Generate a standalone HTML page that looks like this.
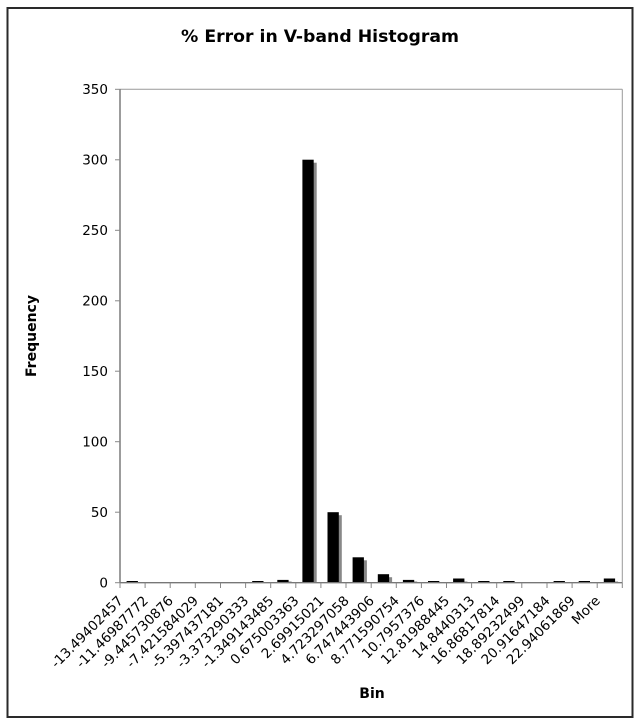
<!DOCTYPE html>
<html>
<head>
<meta charset="utf-8">
<style>
  html, body { margin:0; padding:0; background:#fff; }
  svg { display:block; }
  text { font-family: "DejaVu Sans", "Liberation Sans", sans-serif; fill:#000; }
</style>
</head>
<body>
<svg width="640" height="725" viewBox="0 0 640 725" xmlns="http://www.w3.org/2000/svg">
  <rect x="0" y="0" width="640" height="725" fill="#fff"/>
  <!-- outer frame -->
  <rect x="7.5" y="8" width="625" height="709" fill="none" stroke="#2a2a2a" stroke-width="2"/>

  <!-- title -->
  <text x="320" y="42" text-anchor="middle" font-size="17" font-weight="bold" textLength="278" lengthAdjust="spacingAndGlyphs">% Error in V-band Histogram</text>

  <!-- plot area border -->
  <line x1="120" y1="89.3" x2="622.3" y2="89.3" stroke="#999" stroke-width="1"/>
  <line x1="622.3" y1="89.3" x2="622.3" y2="582.7" stroke="#999" stroke-width="1"/>

  <!-- bars: shadows -->
  <g fill="#888">
    <rect x="305.4" y="162.7" width="11.3" height="420"/>
    <rect x="330.5" y="515.2" width="11.3" height="67.5"/>
    <rect x="355.6" y="560.3" width="11.3" height="22.4"/>
    <rect x="380.8" y="577.2" width="11.3" height="5.5"/>
    <rect x="405.9" y="581.5" width="11.3" height="1.2"/>
    <rect x="456.1" y="581.5" width="11.3" height="1.2"/>
    <rect x="280.3" y="581.5" width="11.3" height="1.2"/>
    <rect x="606.8" y="581.5" width="11.3" height="1.2"/>
  </g>
  <!-- bars -->
  <g fill="#000">
    <rect x="126.6" y="581.0" width="11.3" height="1.7"/>
    <rect x="252.2" y="581.0" width="11.3" height="1.7"/>
    <rect x="277.3" y="579.9" width="11.3" height="2.82"/>
    <rect x="302.4" y="159.7" width="11.3" height="423"/>
    <rect x="327.5" y="512.2" width="11.3" height="70.5"/>
    <rect x="352.6" y="557.3" width="11.3" height="25.4"/>
    <rect x="377.8" y="574.2" width="11.3" height="8.46"/>
    <rect x="402.9" y="579.9" width="11.3" height="2.82"/>
    <rect x="428.0" y="581.0" width="11.3" height="1.7"/>
    <rect x="453.1" y="578.5" width="11.3" height="4.23"/>
    <rect x="478.2" y="581.0" width="11.3" height="1.7"/>
    <rect x="503.3" y="581.0" width="11.3" height="1.7"/>
    <rect x="553.6" y="581.0" width="11.3" height="1.7"/>
    <rect x="578.7" y="581.0" width="11.3" height="1.7"/>
    <rect x="603.8" y="578.5" width="11.3" height="4.23"/>
  </g>

  <!-- axes -->
  <line x1="120" y1="89.3" x2="120" y2="583" stroke="#666" stroke-width="1.3"/>
  <line x1="120" y1="582.7" x2="622.3" y2="582.7" stroke="#777" stroke-width="1.3"/>

  <!-- y ticks -->
  <g stroke="#888" stroke-width="1">
    <line x1="115" y1="89.3" x2="120" y2="89.3"/>
    <line x1="115" y1="159.8" x2="120" y2="159.8"/>
    <line x1="115" y1="230.3" x2="120" y2="230.3"/>
    <line x1="115" y1="300.8" x2="120" y2="300.8"/>
    <line x1="115" y1="371.2" x2="120" y2="371.2"/>
    <line x1="115" y1="441.7" x2="120" y2="441.7"/>
    <line x1="115" y1="512.2" x2="120" y2="512.2"/>
    <line x1="115" y1="582.7" x2="120" y2="582.7"/>
  </g>
  <g font-size="13.5" text-anchor="end">
    <text x="108" y="94.1">350</text>
    <text x="108" y="164.6">300</text>
    <text x="108" y="235.1">250</text>
    <text x="108" y="305.6">200</text>
    <text x="108" y="376.0">150</text>
    <text x="108" y="446.5">100</text>
    <text x="108" y="517.0">50</text>
    <text x="108" y="587.5">0</text>
  </g>

  <!-- x ticks -->
  <g stroke="#888" stroke-width="1">
    <line x1="120.0" y1="582.7" x2="120.0" y2="588"/>
    <line x1="145.1" y1="582.7" x2="145.1" y2="588"/>
    <line x1="170.2" y1="582.7" x2="170.2" y2="588"/>
    <line x1="195.3" y1="582.7" x2="195.3" y2="588"/>
    <line x1="220.5" y1="582.7" x2="220.5" y2="588"/>
    <line x1="245.6" y1="582.7" x2="245.6" y2="588"/>
    <line x1="270.7" y1="582.7" x2="270.7" y2="588"/>
    <line x1="295.8" y1="582.7" x2="295.8" y2="588"/>
    <line x1="320.9" y1="582.7" x2="320.9" y2="588"/>
    <line x1="346.0" y1="582.7" x2="346.0" y2="588"/>
    <line x1="371.2" y1="582.7" x2="371.2" y2="588"/>
    <line x1="396.3" y1="582.7" x2="396.3" y2="588"/>
    <line x1="421.4" y1="582.7" x2="421.4" y2="588"/>
    <line x1="446.5" y1="582.7" x2="446.5" y2="588"/>
    <line x1="471.6" y1="582.7" x2="471.6" y2="588"/>
    <line x1="496.7" y1="582.7" x2="496.7" y2="588"/>
    <line x1="521.8" y1="582.7" x2="521.8" y2="588"/>
    <line x1="547.0" y1="582.7" x2="547.0" y2="588"/>
    <line x1="572.1" y1="582.7" x2="572.1" y2="588"/>
    <line x1="597.2" y1="582.7" x2="597.2" y2="588"/>
    <line x1="622.3" y1="582.7" x2="622.3" y2="588"/>
  </g>

  <!-- x labels -->
  <g font-size="13.5" text-anchor="end">
    <text transform="translate(123.8,601.5) rotate(-45)">-13.49402457</text>
    <text transform="translate(148.9,601.5) rotate(-45)">-11.46987772</text>
    <text transform="translate(174.0,601.5) rotate(-45)">-9.445730876</text>
    <text transform="translate(199.1,601.5) rotate(-45)">-7.421584029</text>
    <text transform="translate(224.2,601.5) rotate(-45)">-5.397437181</text>
    <text transform="translate(249.3,601.5) rotate(-45)">-3.373290333</text>
    <text transform="translate(274.4,601.5) rotate(-45)">-1.349143485</text>
    <text transform="translate(299.6,601.5) rotate(-45)">0.675003363</text>
    <text transform="translate(324.7,601.5) rotate(-45)">2.69915021</text>
    <text transform="translate(349.8,601.5) rotate(-45)">4.723297058</text>
    <text transform="translate(374.9,601.5) rotate(-45)">6.747443906</text>
    <text transform="translate(400.0,601.5) rotate(-45)">8.771590754</text>
    <text transform="translate(425.1,601.5) rotate(-45)">10.7957376</text>
    <text transform="translate(450.2,601.5) rotate(-45)">12.81988445</text>
    <text transform="translate(475.4,601.5) rotate(-45)">14.8440313</text>
    <text transform="translate(500.5,601.5) rotate(-45)">16.86817814</text>
    <text transform="translate(525.6,601.5) rotate(-45)">18.89232499</text>
    <text transform="translate(550.7,601.5) rotate(-45)">20.91647184</text>
    <text transform="translate(575.8,601.5) rotate(-45)">22.94061869</text>
    <text transform="translate(600.9,601.5) rotate(-45)">More</text>
  </g>

  <!-- axis titles -->
  <text x="372" y="698" text-anchor="middle" font-size="14" font-weight="bold">Bin</text>
  <text transform="translate(36,336) rotate(-90)" text-anchor="middle" font-size="14" font-weight="bold" textLength="82" lengthAdjust="spacingAndGlyphs">Frequency</text>
</svg>
</body>
</html>
